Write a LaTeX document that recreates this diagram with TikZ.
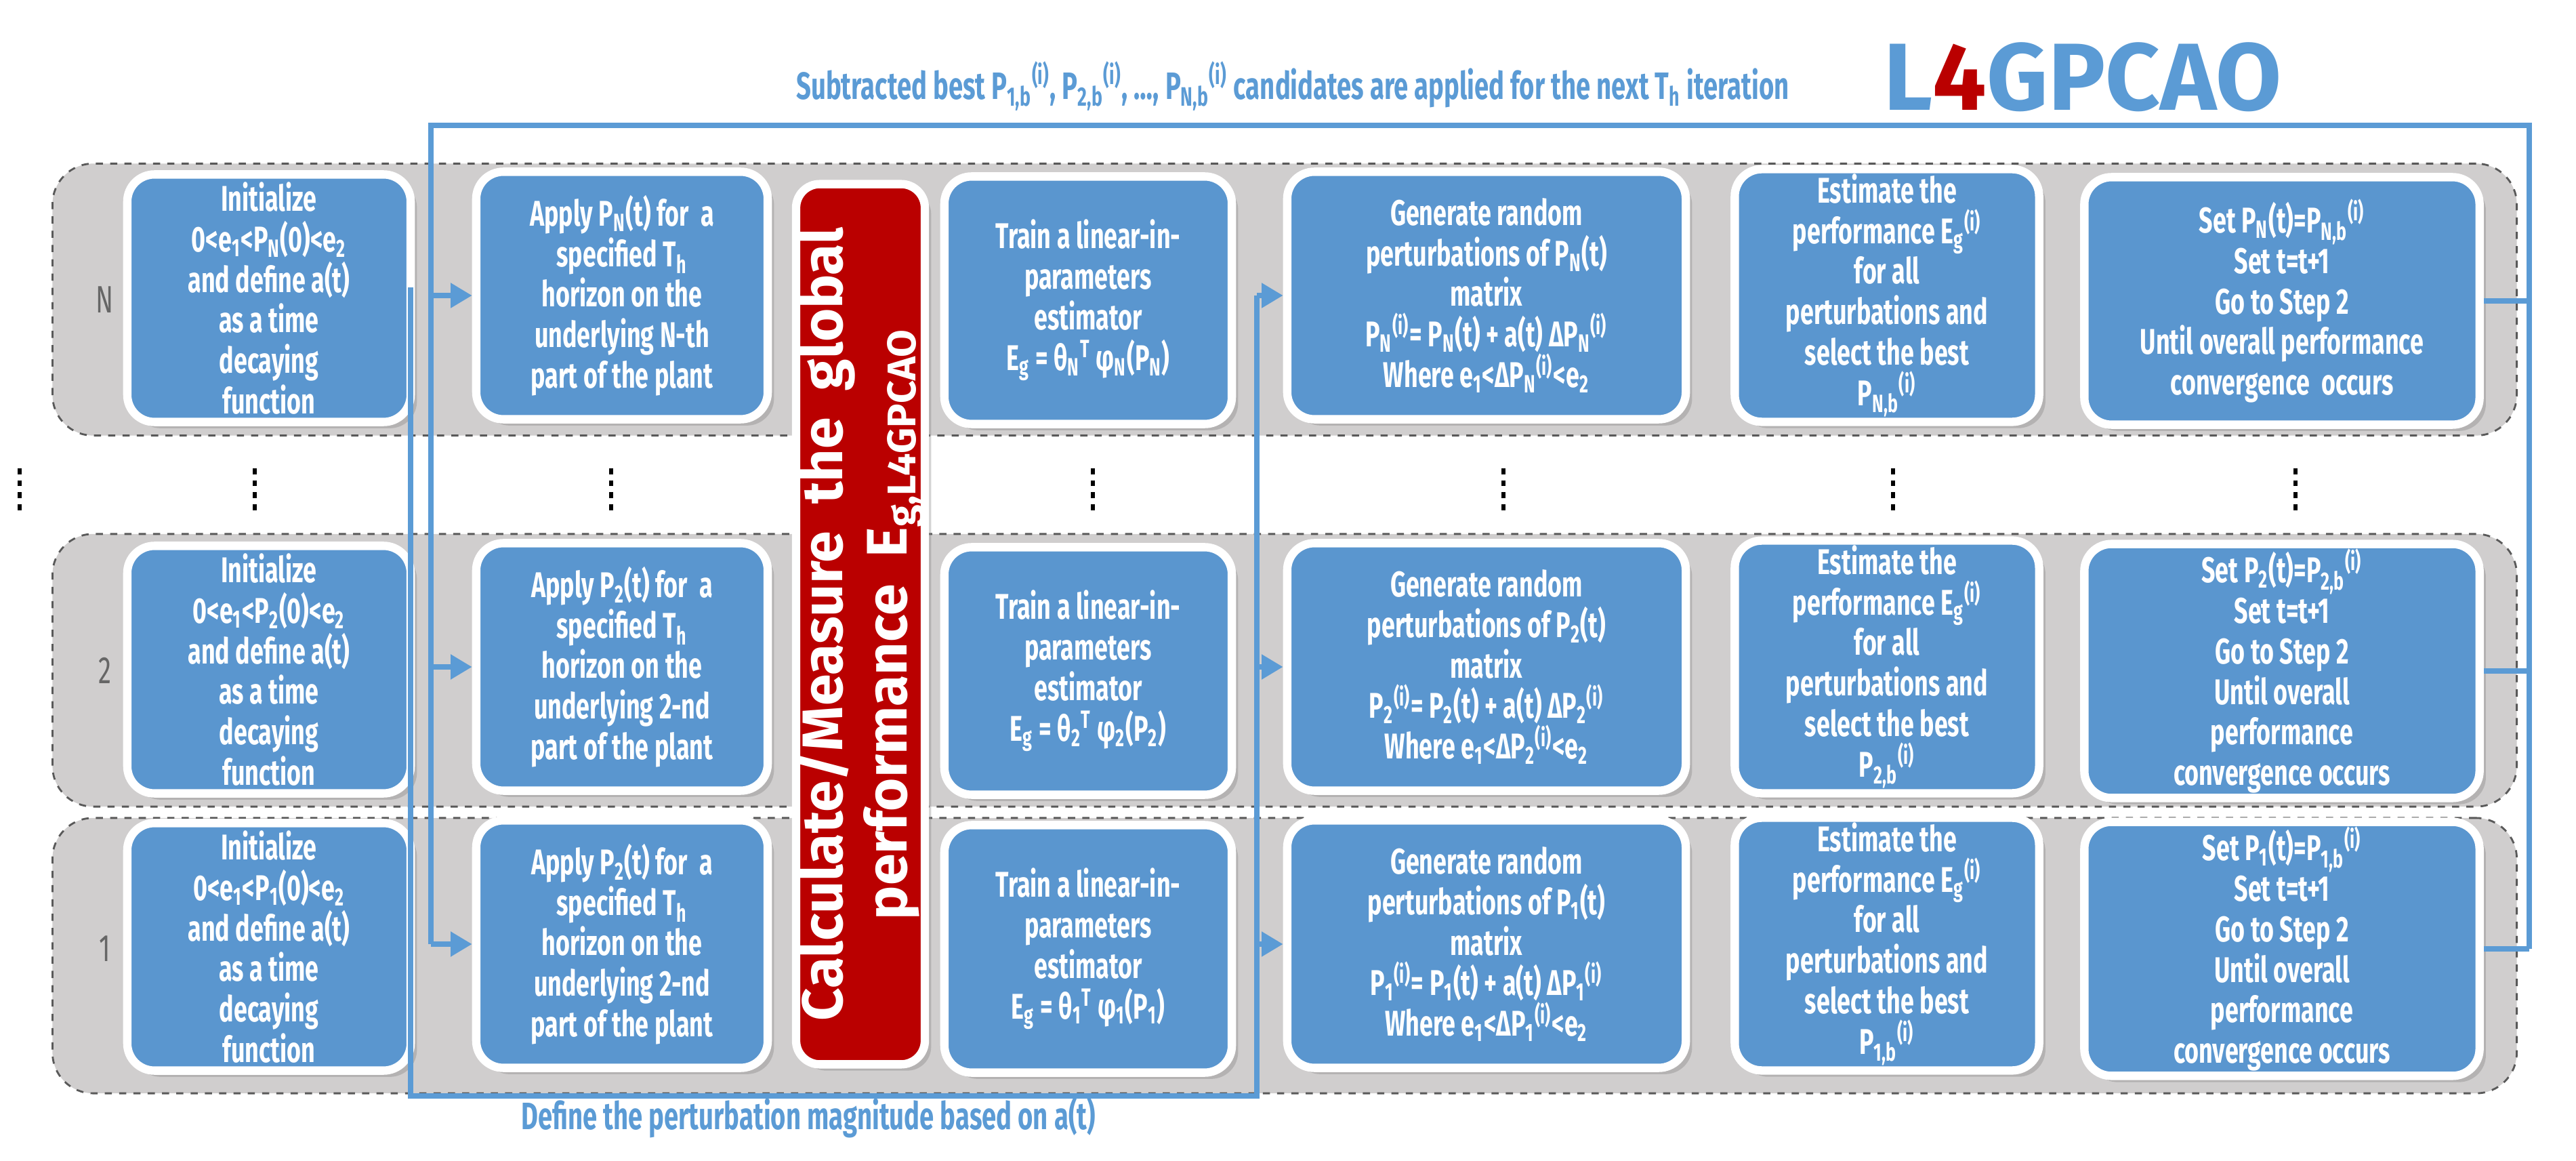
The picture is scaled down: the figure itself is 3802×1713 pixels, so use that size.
\documentclass[tikz,border=0pt]{standalone}
\usepackage{fontspec}
\setmainfont{Fira Sans}
\newfontfamily\cond{Fira Sans}[FakeStretch=0.68]
\usetikzlibrary{arrows.meta,shadows}
\definecolor{boxblue}{HTML}{5A96CF}
\definecolor{lblue}{HTML}{5B9BD5}
\definecolor{bandgray}{HTML}{D0CECE}
\definecolor{redbar}{HTML}{BA0000}
\newcommand{\lo}[1]{\textsubscript{#1}}
\newcommand{\lohi}[2]{\textsubscript{#1}\textsuperscript{#2}}
\begin{document}
\begin{tikzpicture}[x=0.01cm,y=-0.01cm,
  band/.style={draw=gray!70!black, dashed, line width=0.8pt, fill=bandgray, rounded corners=0.6cm},
  box/.style={draw=white, line width=3.5pt, fill=boxblue, rounded corners=0.4cm, text=white,
    align=center, minimum height=3.65cm, inner sep=2pt,
    font=\cond\bfseries\fontsize{15}{17}\selectfont, drop shadow={opacity=0.35}},
  conn/.style={draw=lblue, line width=2.2pt},
  arr/.style={conn, -{Triangle[length=9pt,width=10pt]}},
  lab/.style={text=gray!80!black, font=\cond\fontsize{16}{18}\selectfont},
  dots/.style={draw=black, line width=1.6pt, dash pattern=on 2.5pt off 2.5pt},
  c1/.style={box, minimum width=4.18cm},
  c2/.style={box, minimum width=4.30cm},
  c3/.style={box, minimum width=4.24cm},
  c4/.style={box, minimum width=5.88cm},
  c5/.style={box, minimum width=4.49cm},
  c6/.style={box, minimum width=5.83cm},
]
\useasboundingbox (0,0) rectangle (3802,1713);
% bands
\node[band, minimum width=36.35cm, minimum height=4.01cm] (bandN) at (1896,442) {};
\node[band, minimum width=36.35cm, minimum height=4.02cm] (band2) at (1896,989) {};
\node[band, minimum width=36.35cm, minimum height=4.06cm] (band1) at (1896,1410) {};
% row labels
\node[lab] (lN) at (155,442) {N};
\node[lab] (l2) at (155,989) {2};
\node[lab] (l1) at (155,1400) {1};
% row N
\node[c1] (n1) at (397,440) {Initialize\\0<e\lo{1}<P\lo{N}(0)<e\lo{2}\\and define a(t)\\as a time\\decaying\\function};
\node[c2] (n2) at (918,436) {Apply P\lo{N}(t) for\ \ a\\specified T\lo{h}\\horizon on the\\underlying N-th\\part of the plant};
\node[c3] (n3) at (1606,443) {Train a linear-in-\\parameters\\estimator\\E\lo{g} = θ\lohi{N}{T} φ\lo{N}(P\lo{N})};
\node[c4] (n4) at (2194,436) {Generate random\\perturbations of P\lo{N}(t)\\matrix\\P\lohi{N}{(i)}= P\lo{N}(t) + a(t) ΔP\lohi{N}{(i)}\\Where e\lo{1}<ΔP\lohi{N}{(i)}<e\lo{2}};
\node[c5] (n5) at (2785,436) {Estimate the\\performance E\lohi{g}{(i)}\\for all\\perturbations and\\select the best\\P\lohi{N,b}{(i)}};
\node[c6] (n6) at (3368,444) {Set P\lo{N}(t)=P\lohi{N,b}{(i)}\\Set t=t+1\\Go to Step 2\\Until overall performance\\convergence\ \ occurs};
% row 2
\node[c1] (m1) at (397,988) {Initialize\\0<e\lo{1}<P\lo{2}(0)<e\lo{2}\\and define a(t)\\as a time\\decaying\\function};
\node[c2] (m2) at (918,984) {Apply P\lo{2}(t) for\ \ a\\specified T\lo{h}\\horizon on the\\underlying 2-nd\\part of the plant};
\node[c3] (m3) at (1606,990) {Train a linear-in-\\parameters\\estimator\\E\lo{g} = θ\lohi{2}{T} φ\lo{2}(P\lo{2})};
\node[c4] (m4) at (2194,984) {Generate random\\perturbations of P\lo{2}(t)\\matrix\\P\lohi{2}{(i)}= P\lo{2}(t) + a(t) ΔP\lohi{2}{(i)}\\Where e\lo{1}<ΔP\lohi{2}{(i)}<e\lo{2}};
\node[c5] (m5) at (2785,984) {Estimate the\\performance E\lohi{g}{(i)}\\for all\\perturbations and\\select the best\\P\lohi{2,b}{(i)}};
\node[c6] (m6) at (3368,990) {Set P\lo{2}(t)=P\lohi{2,b}{(i)}\\Set t=t+1\\Go to Step 2\\Until overall\\performance\\convergence occurs};
% row 1
\node[c1] (k1) at (397,1397) {Initialize\\0<e\lo{1}<P\lo{1}(0)<e\lo{2}\\and define a(t)\\as a time\\decaying\\function};
\node[c2] (k2) at (918,1393) {Apply P\lo{2}(t) for\ \ a\\specified T\lo{h}\\horizon on the\\underlying 2-nd\\part of the plant};
\node[c3] (k3) at (1606,1400) {Train a linear-in-\\parameters\\estimator\\E\lo{g} = θ\lohi{1}{T} φ\lo{1}(P\lo{1})};
\node[c4] (k4) at (2194,1393) {Generate random\\perturbations of P\lo{1}(t)\\matrix\\P\lohi{1}{(i)}= P\lo{1}(t) + a(t) ΔP\lohi{1}{(i)}\\Where e\lo{1}<ΔP\lohi{1}{(i)}<e\lo{2}};
\node[c5] (k5) at (2785,1393) {Estimate the\\performance E\lohi{g}{(i)}\\for all\\perturbations and\\select the best\\P\lohi{1,b}{(i)}};
\node[c6] (k6) at (3368,1400) {Set P\lo{1}(t)=P\lohi{1,b}{(i)}\\Set t=t+1\\Go to Step 2\\Until overall\\performance\\convergence occurs};
% red bar
\node[draw=white, line width=3.5pt, fill=redbar, rounded corners=0.35cm, rotate=90,
  minimum width=12.98cm, minimum height=1.76cm, text=white, align=center, inner sep=0pt,
  font=\bfseries\fontsize{24}{27}\selectfont, drop shadow={opacity=0.35}] (red) at (1270,921)
  {Calculate/Measure\ \ the\ \ global\\performance\ \ E\lo{g,L4GPCAO}};
% dots between rows
\foreach \x/\n in {29/a,376/b,902/c,1613/d,2219/e,2794/f,3388/g}{
  \coordinate (dt\n) at (\x,691); \coordinate (db\n) at (\x,757);
  \draw[dots] (dt\n) -- (db\n);
}
% top feedback loop
\coordinate (tR) at (3733,185);
\coordinate (tL) at (636,185);
\coordinate (rB) at (3733,1400);
\draw[conn] (n6.east) -- (n6.east -| tR);
\draw[conn] (m6.east) -- (m6.east -| tR);
\draw[conn] (k6.east) -- (rB);
\draw[conn] (rB) -- (tR) -- (tL) -- (tL |- k2.west);
\draw[arr] (tL |- n2.west) -- (n2.west);
\draw[arr] (tL |- m2.west) -- (m2.west);
\draw[arr] (tL |- k2.west) -- (k2.west);
% bottom loop
\coordinate (bL) at (606,1617);
\coordinate (bR) at (1855,1617);
\coordinate (bLt) at (606,424);
\draw[conn] (bLt) -- (bL) -- (bR) -- (bR |- n4.west);
\draw[arr] (bR |- n4.west) -- (n4.west);
\draw[arr] (bR |- m4.west) -- (m4.west);
\draw[arr] (bR |- k4.west) -- (k4.west);
% texts
\node[text=lblue, font=\cond\bfseries\fontsize{16}{18}\selectfont] (ttop) at (1908,127)
  {Subtracted best P\lohi{1,b}{(i)}, P\lohi{2,b}{(i)}, \dots, P\lohi{N,b}{(i)}\,candidates are applied for the next T\lo{h} iteration};
\node[text=lblue, font=\bfseries\fontsize{40}{44}\selectfont, inner sep=0pt] (logo) at (3074,114)
  {L\textcolor{redbar}{4}GPCAO};
\node[text=lblue, font=\cond\bfseries\fontsize{16}{18}\selectfont] (tbot) at (1193,1649)
  {Define the perturbation magnitude based on a(t)};
\end{tikzpicture}
\end{document}
